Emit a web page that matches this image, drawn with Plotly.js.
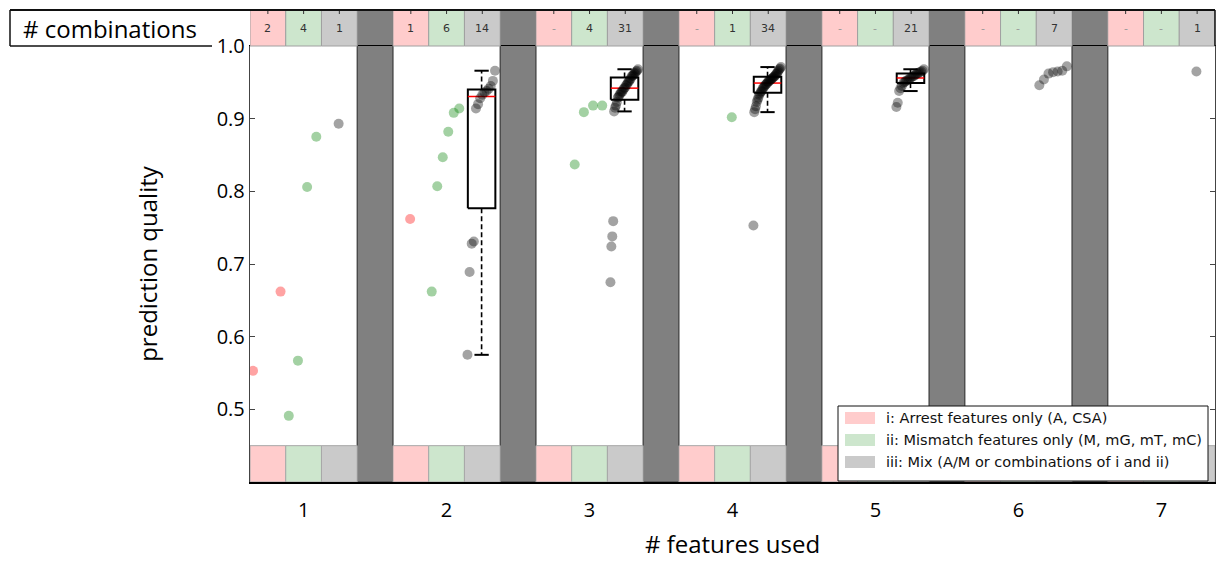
<!DOCTYPE html>
<html><head><meta charset="utf-8">
<script src="https://cdn.plot.ly/plotly-3.0.1.min.js"></script>
<style>html,body{margin:0;padding:0;background:#fff;}#chart{width:1217px;height:561px;}</style>
</head><body><div id="chart"></div>
<script>
// ---------- data ----------
const featureCounts = [1, 2, 3, 4, 5, 6, 7];
const categoryNames = [
  'i: Arrest features only (A, CSA)',
  'ii: Mismatch features only (M, mG, mT, mC)',
  'iii: Mix (A/M or combinations of i and ii)'
];
const arrestQuality = [[0.553, 0.662], [0.762], [], [], [], [], []];
const mismatchQuality = [
  [0.491, 0.567, 0.806, 0.875],
  [0.662, 0.807, 0.847, 0.882, 0.908, 0.914],
  [0.837, 0.909, 0.918, 0.918],
  [0.902], [], [], []
];
const mixQuality = [
  [0.893],
  [0.575, 0.689, 0.728, 0.731, 0.914, 0.920, 0.928, 0.933, 0.936, 0.938, 0.941, 0.945, 0.952, 0.966],
  [0.675, 0.724, 0.738, 0.759, 0.910, 0.915, 0.918, 0.923, 0.929, 0.930, 0.933, 0.935, 0.937, 0.937, 0.940, 0.942,
   0.943, 0.946, 0.947, 0.950, 0.951, 0.953, 0.955, 0.958, 0.959, 0.960, 0.962, 0.963, 0.965, 0.966, 0.968],
  [0.753, 0.909, 0.913, 0.917, 0.923, 0.926, 0.929, 0.933, 0.935, 0.937, 0.938, 0.941, 0.943, 0.944, 0.946, 0.947,
   0.948, 0.950, 0.951, 0.952, 0.953, 0.954, 0.955, 0.956, 0.957, 0.958, 0.959, 0.961, 0.962, 0.964, 0.966, 0.968, 0.969, 0.971],
  [0.916, 0.922, 0.938, 0.942, 0.945, 0.949, 0.950, 0.952, 0.953, 0.954, 0.956, 0.957, 0.958, 0.959, 0.961, 0.962,
   0.963, 0.964, 0.965, 0.966, 0.968],
  [0.946, 0.954, 0.962, 0.964, 0.965, 0.966, 0.972],
  [0.965]
];
const yTickVals = [0.5, 0.6, 0.7, 0.8, 0.9, 1.0];

// ---------- styling / geometry ----------
const series = [arrestQuality, mismatchQuality, mixQuality];
const dotColors = ['rgba(255,0,0,0.36)', 'rgba(0,128,0,0.36)', 'rgba(0,0,0,0.36)'];
const cellFill = ['#ffcccc', '#cde6cd', '#cacaca'];
const D = 436 / 472;          // top of main plot in paper coords
const cellW = 0.25;
const cellLeft = (g, c) => g - 0.375 + cellW * c;
const px2paperX = px => (px - 250) / 965;
const px2paperY = py => (482 - py) / 472;

function spread(g, c, vals) {
  const s = [...vals].sort((a, b) => a - b);
  const n = s.length;
  return {
    x: s.map((v, i) => cellLeft(g, c) + cellW * (n === 1 ? 0.48 : 0.085 + 0.77 * i / (n - 1))),
    y: s
  };
}
function quant(s, p) {
  const pos = (s.length - 1) * p, lo = Math.floor(pos), hi = Math.ceil(pos);
  return s[lo] + (s[hi] - s[lo]) * (pos - lo);
}

const traces = [];
// box plots for the mix category (groups with enough combinations)
const boxX = [], boxY = [], medX = [], medY = [], whX = [], whY = [], capX = [], capY = [];
featureCounts.forEach((g, gi) => {
  const s = [...mixQuality[gi]].sort((a, b) => a - b);
  if (s.length < 10) return;
  const q1 = quant(s, 0.25), med = quant(s, 0.5), q3 = quant(s, 0.75), iqr = q3 - q1;
  const hiW = Math.max(...s.filter(v => v <= q3 + 1.5 * iqr));
  const loW = Math.min(...s.filter(v => v >= q1 - 1.5 * iqr));
  const xc = cellLeft(g, 2) + cellW * 0.48, hw = cellW * 0.385, cw = cellW * 0.2;
  boxX.push(xc - hw, xc + hw, xc + hw, xc - hw, xc - hw, null);
  boxY.push(q1, q1, q3, q3, q1, null);
  medX.push(xc - hw, xc + hw, null); medY.push(med, med, null);
  whX.push(xc, xc, null, xc, xc, null); whY.push(q3, hiW, null, q1, loW, null);
  capX.push(xc - cw, xc + cw, null, xc - cw, xc + cw, null); capY.push(hiW, hiW, null, loW, loW, null);
});
traces.push({x: whX, y: whY, mode: 'lines', line: {color: '#000', width: 1.6, dash: '5px,3px'}, hoverinfo: 'skip', showlegend: false});
traces.push({x: capX, y: capY, mode: 'lines', line: {color: '#000', width: 2}, hoverinfo: 'skip', showlegend: false});
traces.push({x: boxX, y: boxY, mode: 'lines', line: {color: '#000', width: 2}, hoverinfo: 'skip', showlegend: false});
traces.push({x: medX, y: medY, mode: 'lines', line: {color: '#ff0000', width: 1.5}, hoverinfo: 'skip', showlegend: false});

// scatter points
series.forEach((arr, c) => {
  const xs = [], ys = [];
  featureCounts.forEach((g, gi) => {
    const p = spread(g, c, arr[gi]);
    xs.push(...p.x); ys.push(...p.y);
  });
  traces.push({
    x: xs, y: ys, mode: 'markers', type: 'scatter', name: categoryNames[c],
    marker: {size: 10, color: dotColors[c], line: {width: 0}}, showlegend: false
  });
});

// ---------- shapes & annotations ----------
const shapes = [], annotations = [];
featureCounts.forEach((g, gi) => {
  for (let c = 0; c < 3; c++) {
    const x0 = cellLeft(g, c), x1 = x0 + cellW;
    shapes.push({type: 'rect', layer: 'below', xref: 'x', yref: 'y', x0, x1, y0: 0.4, y1: 0.45,
      fillcolor: cellFill[c], line: {color: '#a8a8a8', width: 1}});
    shapes.push({type: 'rect', layer: 'above', xref: 'x', yref: 'paper', x0, x1, y0: D, y1: 1,
      fillcolor: cellFill[c], line: {color: '#a0a0a0', width: 1}});
    shapes.push({type: 'line', layer: 'above', xref: 'x', yref: 'paper', x0: x0 + cellW / 2, x1: x0 + cellW / 2,
      y0: 1, y1: 1 - 4 / 472, line: {color: '#333', width: 1}});
    const n = series[c][gi].length;
    annotations.push({xref: 'x', yref: 'paper', x: x0 + cellW / 2, y: (D + 1) / 2, xanchor: 'center', yanchor: 'middle',
      text: n ? String(n) : '-', showarrow: false, font: {family: 'DejaVu Sans', size: 11, color: n ? '#333' : '#999'}});
  }
  if (gi < featureCounts.length - 1) {
    shapes.push({type: 'rect', layer: 'below', xref: 'x', yref: 'paper', x0: g + 0.375, x1: g + 0.625, y0: 0, y1: 1,
      fillcolor: '#808080', line: {color: '#3a3a3a', width: 1.2}});
  }
});
// frame of the "# combinations" row
const comboLeft = px2paperX(10);
shapes.push({type: 'line', xref: 'paper', yref: 'paper', x0: comboLeft, x1: 1, y0: 1, y1: 1, line: {color: '#111', width: 2}});
shapes.push({type: 'line', xref: 'paper', yref: 'paper', x0: comboLeft, x1: comboLeft, y0: D, y1: 1, line: {color: '#111', width: 1.5}});
shapes.push({type: 'line', xref: 'paper', yref: 'paper', x0: comboLeft, x1: px2paperX(212), y0: D, y1: D, line: {color: '#111', width: 1.5}});
shapes.push({type: 'line', xref: 'paper', yref: 'paper', x0: 1, x1: 1, y0: D, y1: 1, line: {color: '#111', width: 1.5}});
annotations.push({xref: 'paper', yref: 'paper', x: px2paperX(110), y: (D + 1) / 2, xanchor: 'center', yanchor: 'middle',
  text: '# combinations', showarrow: false, font: {family: 'Open Sans', size: 24, color: '#000'}});

// legend (drawn manually to match rectangular patches)
shapes.push({type: 'rect', xref: 'paper', yref: 'paper', x0: px2paperX(838), x1: px2paperX(1208), y0: px2paperY(481), y1: px2paperY(406),
  fillcolor: '#fff', line: {color: '#111', width: 1}});
const legendRowsPx = [418, 440, 462];
categoryNames.forEach((name, c) => {
  const yc = legendRowsPx[c];
  shapes.push({type: 'rect', xref: 'paper', yref: 'paper', x0: px2paperX(845), x1: px2paperX(875),
    y0: px2paperY(yc + 6), y1: px2paperY(yc - 6), fillcolor: cellFill[c], line: {width: 0}});
  annotations.push({xref: 'paper', yref: 'paper', x: px2paperX(884), y: px2paperY(yc), xanchor: 'left', yanchor: 'middle',
    text: name, showarrow: false, font: {family: 'DejaVu Sans', size: 14.5, color: '#111'}});
});

const layout = {
  width: 1217, height: 561,
  margin: {l: 250, r: 2, t: 10, b: 79},
  paper_bgcolor: '#fff', plot_bgcolor: '#fff',
  showlegend: false,
  xaxis: {
    range: [0.625, 7.375], tickvals: featureCounts, ticktext: featureCounts.map(String),
    showgrid: false, zeroline: false, showline: true, mirror: true, linecolor: '#000', linewidth: 1.5,
    ticks: '', ticklabelstandoff: 9, tickfont: {family: 'Open Sans', size: 20, color: '#000'},
    title: {text: '# features used', font: {family: 'Open Sans', size: 24, color: '#000'}, standoff: 14}
  },
  yaxis: {
    domain: [0, D], range: [0.4, 1.0], tickvals: yTickVals, tickformat: '.1f',
    showgrid: false, zeroline: false, showline: true, mirror: 'ticks', linecolor: '#444', linewidth: 1.2,
    ticks: 'inside', ticklen: 5, tickcolor: '#444',
    tickfont: {family: 'Open Sans', size: 20, color: '#000'},
    title: {text: 'prediction quality', font: {family: 'Open Sans', size: 24, color: '#000'}, standoff: 52}
  },
  shapes, annotations
};

Plotly.newPlot('chart', traces, layout, {displayModeBar: false, staticPlot: true});
</script>
</body></html>
